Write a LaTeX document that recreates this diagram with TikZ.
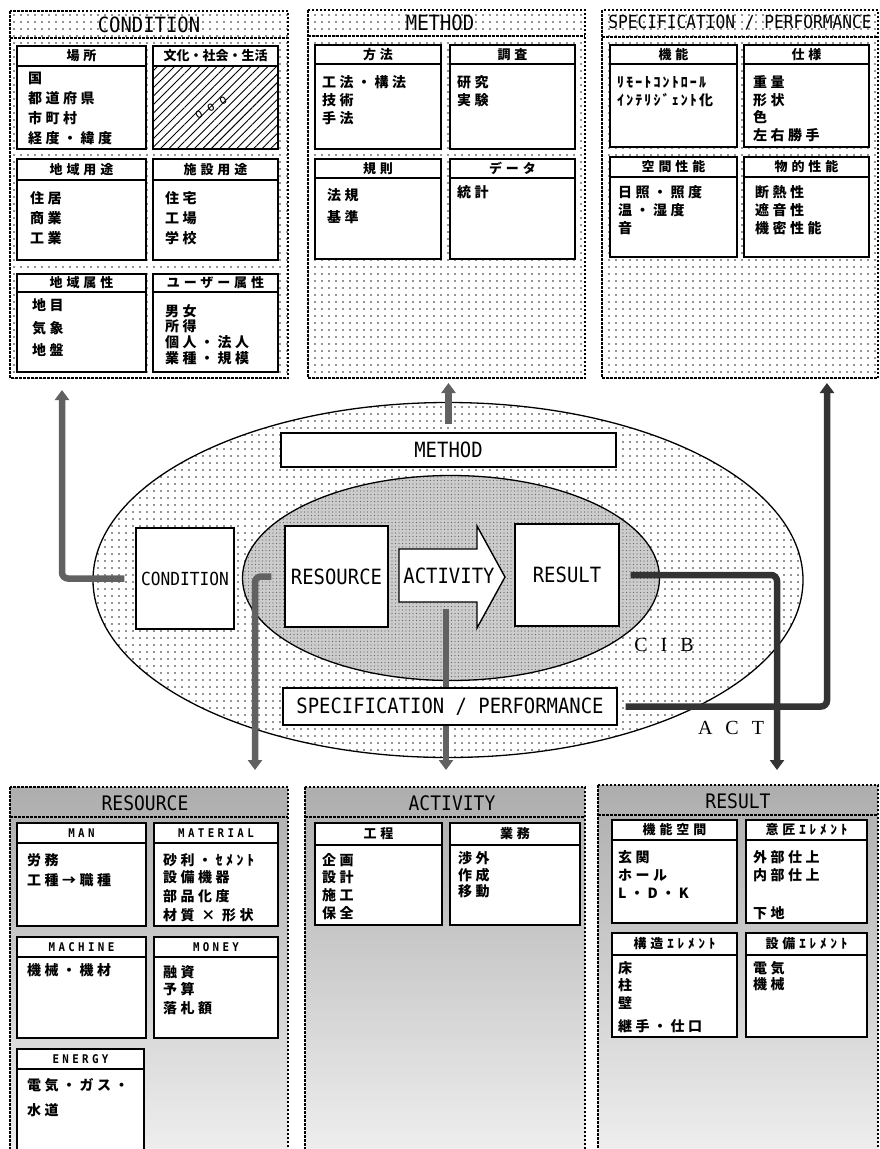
\documentclass[tikz,border=0pt]{standalone}
\usepackage{fontspec}
\usetikzlibrary{shapes.geometric,arrows.meta,patterns.meta}
\newfontfamily\plotfont[FakeStretch=0.9]{DejaVu Sans Mono}
\newfontfamily\plotwide[FakeStretch=0.9,LetterSpace=28]{DejaVu Sans Mono}
\newfontfamily\jpfont[LetterSpace=25]{Noto Sans CJK JP}
\newfontfamily\jpkana[LetterSpace=15]{Noto Sans CJK JP}
\newfontfamily\jphdr[LetterSpace=30]{Noto Sans CJK JP}
\newfontfamily\jptight{Noto Sans CJK JP}
\newfontfamily\serifwide[LetterSpace=65]{Liberation Serif}

\newcommand{\KBox}[7]{%
  \fill[white] (#1,#2) rectangle (#3,#4);
  \draw[boxframe] (#1,#2) rectangle (#3,#4);
  \draw[boxframe] (#1,#5) -- (#3,#5);
  \node[#6] (h#1#2) at ({(#1+#3)/2},{(#2+#5)/2}) {#7};}

\begin{document}
\begin{tikzpicture}[x=1pt,y=-1pt,
  panelframe/.style={draw=black, line width=1.3pt, dash pattern=on 2.5pt off 1.5pt},
  bandline/.style={draw=black, line width=1.1pt, dash pattern=on 2.5pt off 1.5pt},
  boxframe/.style={draw=black, line width=1.4pt},
  dotfill/.style={pattern={Dots[distance=7pt,radius=0.8pt]}, pattern color=black!85},
  hdr/.style={font=\jphdr\bfseries\fontsize{13}{15}\selectfont, inner sep=0pt},
  hdrtight/.style={font=\jptight\bfseries\fontsize{13}{15}\selectfont, inner sep=0pt},
  hdren/.style={font=\plotwide\bfseries\fontsize{12}{14}\selectfont, inner sep=0pt},
  bt/.style={font=\jpfont\bfseries\fontsize{14}{16}\selectfont, anchor=west, inner sep=0pt},
  btkana/.style={bt, font=\jpkana\bfseries\fontsize{14}{16}\selectfont},
  ptitle/.style={font=\plotfont\fontsize{21}{21}\selectfont, inner sep=0pt},
  cbox/.style={draw=black, line width=1.4pt, fill=white, inner sep=0pt, font=\plotfont\fontsize{21}{21}\selectfont},
  flow/.style={line width=6.5pt, draw=black!62, rounded corners=6pt, -{Triangle[width=14pt,length=10pt]}},
  tag/.style={font=\serifwide\fontsize{20}{20}\selectfont, inner sep=0pt}
]
\useasboundingbox (0,0) rectangle (880,1149);
\clip (0,0) rectangle (880,1149);
\fill[white] (0,0) rectangle (880,1149);

% ================= TOP PANELS =================
\fill[dotfill] (10,11) rectangle (288,378);
\draw[panelframe] (10,11) rectangle (288,378);
\draw[bandline] (10,38) -- (288,38);
\node[ptitle] (tcond) at (149,25) {CONDITION};

\fill[dotfill] (308,10) rectangle (585,378);
\draw[panelframe] (308,10) rectangle (585,378);
\draw[bandline] (308,36) -- (585,36);
\node[ptitle] (tmeth) at (440,23) {METHOD};

\fill[dotfill] (602,10) rectangle (878,378);
\draw[panelframe] (602,10) rectangle (878,378);
\draw[bandline] (602,37) -- (878,37);
\node[ptitle, font=\plotfont\fontsize{18}{18}\selectfont] (tspec) at (740,23) {SPECIFICATION / PERFORMANCE};

% CONDITION boxes
\KBox{17}{46}{146}{149}{66}{hdr}{場所}
\node[bt] (c1a) at (28,78) {国};
\node[bt] (c1b) at (28,98) {都道府県};
\node[bt] (c1c) at (28,118) {市町村};
\node[bt] (c1d) at (28,138) {経度・緯度};
\KBox{153}{46}{278}{149}{66}{hdrtight}{文化・社会・生活}
\fill[pattern={Lines[angle=45,distance=6pt,line width=0.9pt]}, pattern color=black] (153,66) rectangle (278,149);
\draw[boxframe] (153,46) rectangle (278,149);
\node[font=\plotfont\fontsize{13}{13}\selectfont, rotate=30, inner sep=0pt] (ooo) at (211,108) {o o o};
\KBox{17}{159}{146}{260}{180}{hdr}{地域用途}
\node[bt] (c3a) at (30,198) {住居};
\node[bt] (c3b) at (30,218) {商業};
\node[bt] (c3c) at (30,238) {工業};
\KBox{153}{159}{278}{260}{180}{hdr}{施設用途}
\node[bt] (c4a) at (165,198) {住宅};
\node[bt] (c4b) at (165,218) {工場};
\node[bt] (c4c) at (165,238) {学校};
\KBox{17}{274}{146}{372}{292}{hdr}{地域属性}
\node[bt] (c5a) at (32,305) {地目};
\node[bt] (c5b) at (32,328) {気象};
\node[bt] (c5c) at (32,350) {地盤};
\KBox{153}{274}{278}{372}{292}{hdr}{ユーザー属性}
\node[bt] (c6a) at (165,311) {男女};
\node[bt] (c6b) at (165,326) {所得};
\node[bt] (c6c) at (165,342) {個人・法人};
\node[bt] (c6d) at (165,358) {業種・規模};

% METHOD boxes
\KBox{315}{45}{441}{149}{64}{hdr}{方法}
\node[bt] (m1a) at (322,82) {工法・構法};
\node[bt] (m1b) at (322,100) {技術};
\node[bt] (m1c) at (322,118) {手法};
\KBox{450}{45}{575}{149}{64}{hdr}{調査}
\node[bt] (m2a) at (457,82) {研究};
\node[bt] (m2b) at (457,100) {実験};
\KBox{315}{159}{441}{259}{178}{hdr}{規則}
\node[bt] (m3a) at (327,195) {法規};
\node[bt] (m3b) at (327,217) {基準};
\KBox{450}{159}{575}{259}{178}{hdr}{データ}
\node[bt] (m4a) at (457,192) {統計};

% SPEC boxes
\KBox{610}{45}{737}{147}{64}{hdr}{機能}
\node[btkana] (s1a) at (617,82) {ﾘﾓｰﾄｺﾝﾄﾛｰﾙ};
\node[btkana] (s1b) at (617,100) {ｲﾝﾃﾘｼﾞｪﾝﾄ化};
\KBox{744}{45}{869}{147}{64}{hdr}{仕様}
\node[bt] (s2a) at (753,82) {重量};
\node[bt] (s2b) at (753,100) {形状};
\node[bt] (s2c) at (753,117) {色};
\node[bt] (s2d) at (753,135) {左右勝手};
\KBox{610}{157}{737}{257}{177}{hdr}{空間性能}
\node[bt] (s3a) at (618,192) {日照・照度};
\node[bt] (s3b) at (618,210) {温・湿度};
\node[bt] (s3c) at (618,228) {音};
\KBox{744}{157}{869}{257}{177}{hdr}{物的性能}
\node[bt] (s4a) at (755,192) {断熱性};
\node[bt] (s4b) at (755,210) {遮音性};
\node[bt] (s4c) at (755,228) {機密性能};

% ================= CENTRE =================
\node[ellipse, draw=black, line width=1.3pt, minimum width=710pt, minimum height=355pt, inner sep=0pt,
      preaction={fill=white}, dotfill] (outer) at (448,580) {};
\node[ellipse, draw=black, line width=1.3pt, minimum width=417pt, minimum height=205pt, inner sep=0pt,
      preaction={fill=black!20}, pattern={Dots[distance=3.5pt,radius=0.7pt]}, pattern color=black!60] (inner) at (451,578) {};

\node[cbox, minimum width=98pt, minimum height=101pt, font=\plotfont\fontsize{18}{18}\selectfont] (cond) at (185,578.5) {CONDITION};
\node[cbox, minimum width=103pt, minimum height=101pt] (res) at (336.5,576.5) {RESOURCE};
\node[cbox, minimum width=104pt, minimum height=102pt] (rslt) at (567,575) {RESULT};

% flows
\coordinate (f1end) at (62,390);
\coordinate (f2end) at (448.5,383);
\coordinate (f3end) at (255,770);
\coordinate (f4start) at (446,609);
\coordinate (f4end) at (446,770);
\coordinate (f5end) at (777,770);
\coordinate (f6end) at (827,383);

\draw[flow] ([xshift=-11pt]cond.west) -| (f1end);
\draw[flow] ([xshift=-13pt]res.west) -| (f3end);
\draw[flow] (f4start) -- (f4end);
\draw[flow, draw=black!80] ([xshift=11pt]rslt.east) -| (f5end);

\node[cbox, minimum width=335pt, minimum height=34pt] (meth) at (448.5,450) {METHOD};
\node[cbox, minimum width=334pt, minimum height=37pt] (spec) at (450,706.5) {SPECIFICATION / PERFORMANCE};

\draw[flow] ([yshift=8pt]meth.north) -- (f2end);
\draw[flow, draw=black!80] ([xshift=8pt]spec.east) -| (f6end);

\draw[line width=1.4pt, fill=white] (399,549) -- (477,549) -- (477,526) -- (505,577) -- (477,628) -- (477,602) -- (399,602) -- cycle;
\node[font=\plotfont\fontsize{21}{21}\selectfont, inner sep=0pt] (actlbl) at (449,576) {ACTIVITY};

\node[tag] (cib) at (664,645) {CIB};
\node[tag] (act) at (731,728) {ACT};

% ================= BOTTOM PANELS =================
\shade[top color=black!32, bottom color=black!6] (10,787) rectangle (288,1160);
\draw[panelframe] (10,787) rectangle (288,1160);
\draw[bandline] (10,817) -- (288,817);
\node[ptitle, font=\plotfont\fontsize{20}{20}\selectfont] (bres) at (145,803) {RESOURCE};

\shade[top color=black!32, bottom color=black!6] (305,787) rectangle (585,1160);
\draw[panelframe] (305,787) rectangle (585,1160);
\draw[bandline] (305,817) -- (585,817);
\node[ptitle, font=\plotfont\fontsize{20}{20}\selectfont] (bact) at (452,803) {ACTIVITY};

\shade[top color=black!32, bottom color=black!6] (598,785) rectangle (878,1160);
\draw[panelframe] (598,785) rectangle (878,1160);
\draw[bandline] (598,815) -- (878,815);
\node[ptitle, font=\plotfont\fontsize{20}{20}\selectfont] (brslt) at (738,801) {RESULT};

% RESOURCE boxes
\KBox{17}{823}{146}{926}{843}{hdren}{MAN}
\node[bt] (r1a) at (27,860) {労務};
\node[bt] (r1b) at (27,880) {工種→職種};
\KBox{154}{823}{278}{926}{843}{hdren}{MATERIAL}
\node[bt] (r2a) at (163,860) {砂利・ｾﾒﾝﾄ};
\node[bt] (r2b) at (163,877) {設備機器};
\node[bt] (r2c) at (163,896) {部品化度};
\node[bt] (r2d) at (163,915) {材質 × 形状};
\KBox{17}{937}{146}{1038}{957}{hdren}{MACHINE}
\node[bt] (r3a) at (27,970) {機械・機材};
\KBox{154}{937}{278}{1038}{957}{hdren}{MONEY}
\node[bt] (r4a) at (163,972) {融資};
\node[bt] (r4b) at (163,989) {予算};
\node[bt] (r4c) at (163,1008) {落札額};
\KBox{17}{1049}{144}{1165}{1069}{hdren}{ENERGY}
\node[bt] (r5a) at (27,1085) {電気・ガス・};
\node[bt] (r5b) at (27,1110) {水道};

% ACTIVITY boxes
\KBox{315}{823}{442}{925}{845}{hdr}{工程}
\node[bt] (a1a) at (322,860) {企画};
\node[bt] (a1b) at (322,877) {設計};
\node[bt] (a1c) at (322,895) {施工};
\node[bt] (a1d) at (322,913) {保全};
\KBox{450}{823}{580}{925}{845}{hdr}{業務}
\node[bt] (a2a) at (458,858) {渉外};
\node[bt] (a2b) at (458,875) {作成};
\node[bt] (a2c) at (458,891) {移動};

% RESULT boxes
\KBox{612}{820}{737}{923}{840}{hdr}{機能空間}
\node[bt] (t1a) at (618,857) {玄関};
\node[bt] (t1b) at (618,875) {ホール};
\node[bt] (t1c) at (618,893) {L・D・K};
\KBox{746}{820}{867}{923}{840}{hdr}{意匠ｴﾚﾒﾝﾄ}
\node[bt] (t2a) at (753,857) {外部仕上};
\node[bt] (t2b) at (753,875) {内部仕上};
\node[bt] (t2c) at (753,913) {下地};
\KBox{612}{933}{737}{1037}{955}{hdr}{構造ｴﾚﾒﾝﾄ}
\node[bt] (t3a) at (618,968) {床};
\node[bt] (t3b) at (618,985) {柱};
\node[bt] (t3c) at (618,1003) {壁};
\node[bt] (t3d) at (618,1026) {継手・仕口};
\KBox{746}{933}{867}{1037}{955}{hdr}{設備ｴﾚﾒﾝﾄ}
\node[bt] (t4a) at (753,968) {電気};
\node[bt] (t4b) at (753,984) {機械};
\end{tikzpicture}
\end{document}
